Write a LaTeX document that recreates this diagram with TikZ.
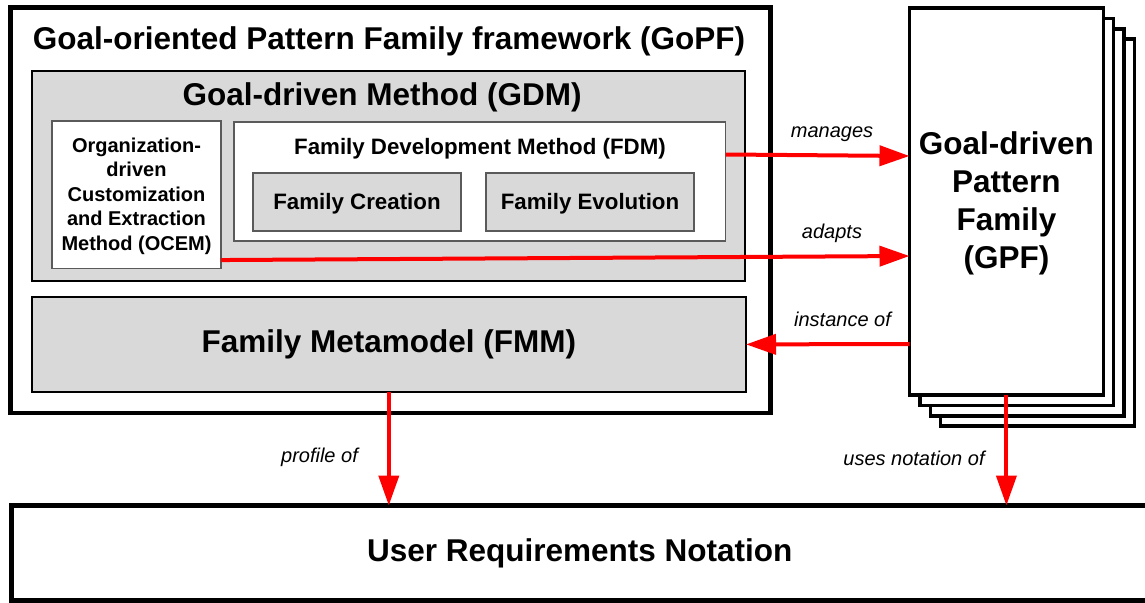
\documentclass[tikz,border=0pt]{standalone}
\usepackage{fontspec}
\setmainfont{Liberation Sans}
\usetikzlibrary{arrows.meta,calc}
\definecolor{boxgray}{HTML}{D9D9D9}
\definecolor{edgegray}{HTML}{5A5A5A}
\begin{document}
\begin{tikzpicture}[x=1pt,y=-1pt,
  box/.style={rectangle, anchor=north west, inner sep=0pt, outer sep=0pt},
  bigtxt/.style={font=\fontsize{31.5}{38}\selectfont\bfseries},
  midtxt/.style={font=\fontsize{22.3}{27}\selectfont\bfseries},
  smalltxt/.style={font=\fontsize{20}{24.5}\selectfont\bfseries},
  lbl/.style={font=\fontsize{20}{24}\selectfont\itshape, inner sep=0pt},
  rel/.style={draw=red, line width=4pt, -{Triangle[length=30pt,width=20pt]}},
  card/.style={box, draw=black, fill=white, line width=3.5pt, minimum width=193.8pt, minimum height=387pt}
]
\useasboundingbox (0,0) rectangle (1145,602);

% outer framework box
\node[box, draw=black, line width=4.5pt, fill=white, minimum width=760pt, minimum height=405.5pt] (gopf) at (10.5,7.5) {};
\node[bigtxt, anchor=base] (gopft) at (389,50) {Goal-oriented Pattern Family framework (GoPF)};

% GDM
\node[box, draw=black, line width=2pt, fill=boxgray, minimum width=713.3pt, minimum height=210.3pt] (gdm) at (31.7,70.7) {};
\node[bigtxt, anchor=base] (gdmt) at (382,105) {Goal-driven Method (GDM)};

% OCEM
\node[box, draw=edgegray, line width=1.3pt, fill=white, minimum width=169pt, minimum height=147.3pt] (ocem) at (52,121) {};
\node[smalltxt, align=center] (ocemt) at ([yshift=-1.5pt]ocem.center)
  {Organization-\\driven\\Customization\\and Extraction\\Method (OCEM)};

% FDM
\node[box, draw=edgegray, line width=1.3pt, fill=white, minimum width=491.7pt, minimum height=119pt] (fdm) at (234,122) {};
\node[midtxt, anchor=base] (fdmt) at (480,154) {Family Development Method (FDM)};
\node[box, draw=edgegray, line width=1.3pt, fill=boxgray, minimum width=208pt, minimum height=58pt] (fc) at (253,173) {};
\node[midtxt, anchor=base] (fct) at (fc.center |- 0,209) {Family Creation};
\node[box, draw=edgegray, line width=1.3pt, fill=boxgray, minimum width=208pt, minimum height=58pt] (fe) at (486,173) {};
\node[midtxt, anchor=base] (fet) at (fe.center |- 0,209) {Family Evolution};

% FMM
\node[box, draw=black, line width=2pt, fill=boxgray, minimum width=714.4pt, minimum height=94.2pt, bigtxt] (fmm) at (31.6,297.3) {Family Metamodel (FMM)};

% GPF stack
\node[card] (gpf4) at (940.7,39.2) {};
\node[card] (gpf3) at (930.3,28.8) {};
\node[card] (gpf2) at (919.9,18.4) {};
\node[card] (gpf) at (909.5,8) {};
\node[bigtxt, align=center] (gpft) at ([yshift=-2pt]gpf.center) {Goal-driven\\Pattern\\Family\\(GPF)};

% URN
\node[box, draw=black, line width=4.5pt, fill=white, minimum width=1136.3pt, minimum height=95pt, bigtxt] (urn) at (11.7,505.5) {User Requirements Notation};

% relations
\draw[rel] ([yshift=27pt]fdm.east) -- ([yshift=45.5pt]gpf.west);
\draw[rel] ([yshift=-65.4pt]ocem.east) -- ([yshift=-54.5pt]gpf.west);
\draw[rel] ([yshift=-142.5pt]gpf.west) -- (fmm.east);
\draw[rel] (fmm.south) -- (fmm.south |- urn.north);
\draw[rel] (gpf.south) -- (gpf.south |- urn.north);

% labels
\node[lbl] (lmanages) at (832,134) {manages};
\node[lbl] (ladapts) at (832,233.5) {adapts};
\node[lbl] (linst) at (842.5,319.5) {instance of};
\node[lbl] (lprof) at (319.5,457) {profile of};
\node[lbl] (luses) at (914,458) {uses notation of};
\end{tikzpicture}
\end{document}
